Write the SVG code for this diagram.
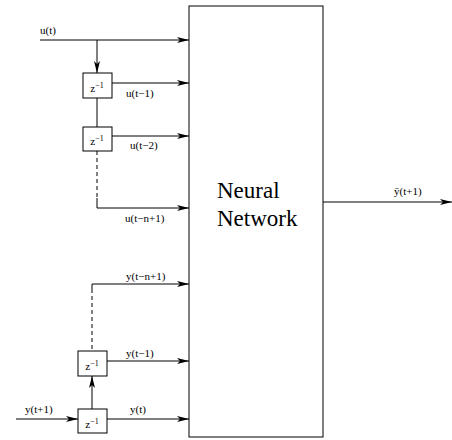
<svg xmlns="http://www.w3.org/2000/svg" width="452" height="440" viewBox="0 0 452 440">
<defs>
<style>
.ln{stroke:#000;stroke-width:1;fill:none}
.ds{stroke:#000;stroke-width:1;fill:none;stroke-dasharray:4,3}
.bx{stroke:#000;stroke-width:1;fill:#fff}
.lb{font-family:"Liberation Serif",serif;font-size:11px;fill:#000}
.zt{font-family:"Liberation Serif",serif;font-size:11px;fill:#000}
.sp{font-size:8px}
.nn{font-family:"Liberation Serif",serif;font-size:23px;fill:#000}
</style>
<marker id="ar" viewBox="0 0 12 8" refX="12" refY="4" markerWidth="12" markerHeight="8" markerUnits="userSpaceOnUse" orient="auto">
<path d="M0,1 L12,4 L0,7 L3,4 z" fill="#000"/>
</marker>
</defs>
<g id="connectors">
<line class="ln" x1="40" y1="40" x2="189" y2="40" marker-end="url(#ar)"/>
<line class="ln" x1="97" y1="40" x2="97" y2="73" marker-end="url(#ar)"/>
<line class="ln" x1="112" y1="83" x2="189" y2="83" marker-end="url(#ar)"/>
<line class="ln" x1="97" y1="98" x2="97" y2="127"/>
<line class="ln" x1="112" y1="136" x2="189" y2="136" marker-end="url(#ar)"/>
<line class="ds" x1="97" y1="151" x2="97" y2="198"/>
<polyline class="ln" points="97,198 97,208 189,208" marker-end="url(#ar)"/>
<polyline class="ln" points="92,293 92,284 189,284" marker-end="url(#ar)"/>
<line class="ds" x1="92" y1="296" x2="92" y2="351"/>
<line class="ln" x1="107" y1="361" x2="189" y2="361" marker-end="url(#ar)"/>
<line class="ln" x1="92" y1="409" x2="92" y2="376" marker-end="url(#ar)"/>
<line class="ln" x1="16" y1="419" x2="78" y2="419" marker-end="url(#ar)"/>
<line class="ln" x1="107" y1="419" x2="189" y2="419" marker-end="url(#ar)"/>
<line class="ln" x1="323" y1="202" x2="452" y2="202" marker-end="url(#ar)"/>
</g>
<g id="labels">
<text class="lb" x="40" y="34">u(t)</text>
<text class="lb" x="126" y="97">u(t−1)</text>
<text class="lb" x="130" y="149">u(t−2)</text>
<text class="lb" x="125" y="222">u(t−n+1)</text>
<text class="lb" x="126" y="280">y(t−n+1)</text>
<text class="lb" x="126" y="357">y(t−1)</text>
<text class="lb" x="25" y="413">y(t+1)</text>
<text class="lb" x="130" y="413">y(t)</text>
<text class="lb" x="394" y="195">ȳ(t+1)</text>
</g>
<g id="nn">
<rect class="bx" x="189" y="6" width="134" height="431"/>
<text class="nn" x="217" y="198">Neural</text>
<text class="nn" x="217" y="226">Network</text>
</g>
<g id="z1">
<rect class="bx" x="83" y="73" width="29" height="25"/>
<text class="zt" x="97" y="92" text-anchor="middle">z<tspan class="sp" dy="-4">−1</tspan></text>
</g>
<g id="z2">
<rect class="bx" x="83" y="127" width="29" height="24"/>
<text class="zt" x="97" y="145" text-anchor="middle">z<tspan class="sp" dy="-4">−1</tspan></text>
</g>
<g id="z3">
<rect class="bx" x="78" y="351" width="29" height="25"/>
<text class="zt" x="92" y="370" text-anchor="middle">z<tspan class="sp" dy="-4">−1</tspan></text>
</g>
<g id="z4">
<rect class="bx" x="78" y="409" width="29" height="24"/>
<text class="zt" x="92" y="428" text-anchor="middle">z<tspan class="sp" dy="-4">−1</tspan></text>
</g>
</svg>
